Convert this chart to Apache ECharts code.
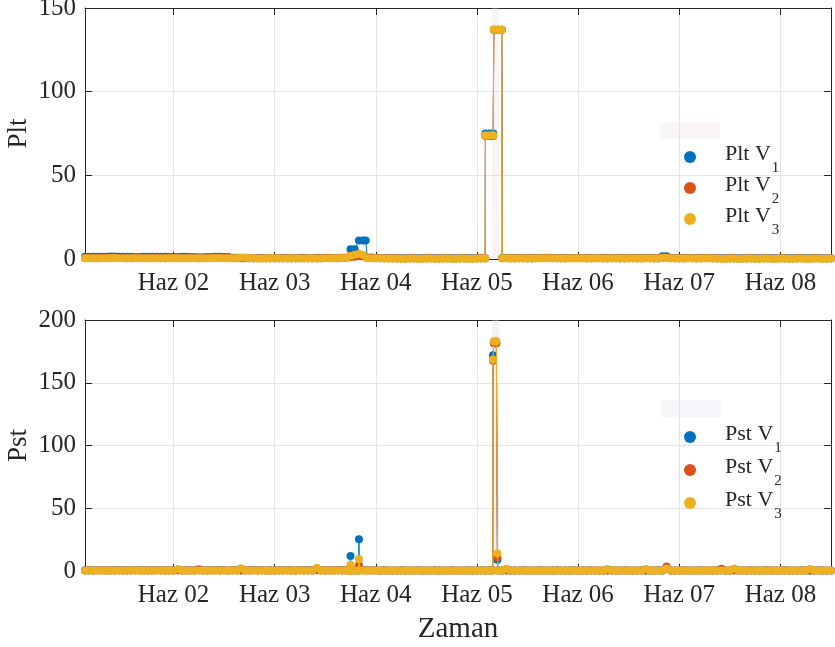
<!DOCTYPE html>
<html>
<head>
<meta charset="utf-8">
<title>Plt / Pst</title>
<script src="https://cdn.jsdelivr.net/npm/echarts@6/dist/echarts.min.js"></script>
<style>
  html, body { margin: 0; padding: 0; background: #ffffff; }
  #chart { width: 835px; height: 647px; }
</style>
</head>
<body>
<div id="chart"></div>
<script>
// Hourly readings, first sample at 03:00 on 1 June, last at 12:00 on 8 June.
// One row per day (1 June: 21 values, 2-7 June: 24 values, 8 June: 13 values).
const FIRST_HOUR = 3;
const LAST_HOUR = 180;

const pltV1 = [
  1.4,1.4,1.3,1.3,1.4,1.4,1.5,1.5,1.3,1.3,1.4,1.4,1.2,1.2,1.3,1.3,1.4,1.4,1.3,1.3,1.2,
  1.2,1.2,1.3,1.3,1.2,1.2,1.1,1.1,1.2,1.2,1.3,1.3,1.2,1.2,0.7,0.7,0.6,0.6,0.5,0.5,0.6,0.6,0.5,0.5,
  0.5,0.5,0.6,0.6,0.5,0.5,0.6,0.6,0.5,0.5,0.6,0.6,0.7,0.7,0.6,0.6,0.8,0.8,5.8,5.8,11.0,11.0,0.9,0.9,
  0.6,0.6,0.5,0.5,0.5,0.5,0.4,0.4,0.5,0.5,0.4,0.4,0.5,0.5,0.4,0.4,0.5,0.5,0.4,0.4,0.5,0.5,0.4,0.4,
  0.5,0.5,75,75,137,137,0.6,0.6,0.5,0.5,0.6,0.6,0.5,0.5,0.6,0.6,0.7,0.7,0.6,0.6,0.5,0.5,0.6,0.6,
  0.6,0.6,0.5,0.5,0.6,0.6,0.5,0.5,0.6,0.6,0.5,0.5,0.6,0.6,0.5,0.5,0.6,0.6,0.5,0.5,1.6,1.6,0.6,0.6,
  0.5,0.5,0.6,0.6,0.5,0.5,0.6,0.6,0.5,0.5,0.4,0.4,0.5,0.5,0.4,0.4,0.5,0.5,0.4,0.4,0.5,0.5,0.4,0.4,
  0.5,0.5,0.4,0.4,0.5,0.5,0.4,0.4,0.5,0.5,0.4,0.4,0.5
];
const pltV2 = [
  0.6,0.6,0.5,0.5,0.6,0.6,0.7,0.7,0.6,0.6,0.5,0.5,0.6,0.6,0.5,0.5,0.6,0.6,0.5,0.5,0.6,
  0.6,0.6,0.5,0.5,0.6,0.6,0.5,0.5,0.6,0.6,0.7,0.7,0.6,0.6,0.5,0.5,0.4,0.4,0.5,0.5,0.4,0.4,0.5,0.5,
  0.5,0.5,0.4,0.4,0.5,0.5,0.4,0.4,0.5,0.5,0.4,0.4,0.6,0.6,0.5,0.5,0.7,0.7,1.2,1.4,1.8,1.6,0.6,0.6,
  0.5,0.5,0.4,0.4,0.4,0.4,0.3,0.3,0.4,0.4,0.3,0.3,0.4,0.4,0.3,0.3,0.4,0.4,0.3,0.3,0.4,0.4,0.3,0.3,
  0.4,0.4,73.5,73.5,137,137,0.5,0.5,0.4,0.4,0.5,0.5,0.4,0.4,0.5,0.5,0.6,0.6,0.5,0.5,0.4,0.4,0.5,0.5,
  0.5,0.5,0.4,0.4,0.5,0.5,0.4,0.4,0.5,0.5,0.4,0.4,0.5,0.5,0.4,0.4,0.5,0.5,0.4,0.4,0.9,0.9,0.5,0.5,
  0.4,0.4,0.5,0.5,0.4,0.4,0.5,0.5,0.4,0.4,0.3,0.3,0.4,0.4,0.3,0.3,0.4,0.4,0.3,0.3,0.4,0.4,0.3,0.3,
  0.4,0.4,0.3,0.3,0.4,0.4,0.3,0.3,0.4,0.4,0.3,0.3,0.4
];
const pltV3 = [
  0.5,0.5,0.4,0.4,0.5,0.5,0.6,0.6,0.5,0.5,0.4,0.4,0.5,0.5,0.4,0.4,0.5,0.5,0.4,0.4,0.5,
  0.5,0.5,0.4,0.4,0.5,0.5,0.4,0.4,0.5,0.5,0.6,0.6,0.5,0.5,0.4,0.4,0.9,0.9,0.4,0.4,0.3,0.3,0.4,0.4,
  0.4,0.4,0.3,0.3,0.4,0.4,0.3,0.3,0.4,0.4,0.3,0.3,0.5,0.5,0.4,0.4,0.6,0.6,2.0,2.6,3.2,2.4,0.5,0.5,
  0.4,0.4,0.3,0.3,0.3,0.3,0.2,0.2,0.3,0.3,0.2,0.2,0.3,0.3,0.2,0.2,0.3,0.3,0.2,0.2,0.3,0.3,0.2,0.2,
  0.3,0.3,74,74,137,137,0.4,0.4,0.3,0.3,0.4,0.4,0.3,0.3,0.4,0.4,0.5,0.5,0.4,0.4,0.3,0.3,0.4,0.4,
  0.4,0.4,0.3,0.3,0.4,0.4,0.3,0.3,0.4,0.4,0.3,0.3,0.4,0.4,0.3,0.3,0.4,0.4,0.3,0.3,0.6,0.6,0.4,0.4,
  0.3,0.3,0.4,0.4,0.3,0.3,0.4,0.4,0.3,0.3,0.2,0.2,0.3,0.3,0.2,0.2,0.3,0.3,0.2,0.2,0.3,0.3,0.2,0.2,
  0.3,0.3,0.2,0.2,0.3,0.3,0.2,0.2,0.3,0.3,0.2,0.2,0.3
];

const pstV1 = [
  0.5,0.4,0.5,0.6,0.5,0.4,0.5,0.5,0.6,0.5,0.4,0.5,0.6,0.5,0.5,0.4,0.5,0.6,0.5,0.4,0.5,
  0.5,0.6,0.5,0.4,0.5,0.5,0.6,0.5,0.4,0.5,0.6,0.5,0.5,0.4,0.5,0.6,0.5,0.4,0.5,0.5,0.6,0.5,0.4,0.5,
  0.5,0.4,0.5,0.6,0.5,0.4,0.5,0.5,0.6,0.5,1.2,0.5,0.4,0.5,0.6,0.5,0.5,0.4,12.0,0.5,25.3,0.6,0.5,0.4,
  0.5,0.4,0.5,0.4,0.3,0.4,0.5,0.4,0.3,0.4,0.5,0.4,0.3,0.4,0.5,0.4,0.3,0.4,0.5,0.4,0.3,0.4,0.5,0.4,
  0.4,0.5,0.4,0.5,182,0.5,0.4,0.5,0.4,0.3,0.4,0.5,0.4,0.3,0.4,0.5,0.4,0.3,0.4,0.5,0.4,0.3,0.4,0.5,
  0.4,0.3,0.4,0.5,0.4,0.3,0.4,0.5,0.4,0.3,0.4,0.5,0.4,0.3,0.4,0.5,0.4,0.3,0.4,0.5,0.4,2.8,0.4,0.3,
  0.4,0.5,0.4,0.3,0.4,0.5,0.4,0.3,0.4,0.5,0.4,0.3,0.4,0.5,0.4,0.3,0.4,0.5,0.4,0.3,0.4,0.5,0.4,0.3,
  0.4,0.5,0.4,0.3,0.4,0.5,0.4,0.3,0.4,0.5,0.4,0.3,0.4
];
const pstV2 = [
  0.4,0.5,0.4,0.5,0.4,0.5,0.4,0.4,0.5,0.4,0.5,0.4,0.5,0.4,0.4,0.5,0.4,0.5,0.4,0.5,0.4,
  0.4,0.5,0.4,0.5,0.4,0.4,1.4,0.4,0.5,0.4,0.5,0.4,0.5,0.4,0.5,0.4,0.4,0.5,0.4,0.5,0.4,0.5,0.4,0.4,
  0.4,0.5,0.4,0.5,0.4,0.4,0.5,0.4,0.5,0.4,0.5,0.4,0.5,0.4,0.4,0.5,0.4,0.5,3.0,0.4,4.8,0.5,0.4,0.5,
  0.4,0.3,0.4,0.3,0.4,0.3,0.4,0.3,0.4,0.3,0.4,0.3,0.4,0.3,0.4,0.3,0.4,0.3,0.4,0.3,0.4,0.3,0.4,0.3,
  0.4,0.3,0.4,0.3,181.5,0.4,0.3,0.4,0.3,0.4,0.3,0.4,0.3,0.4,0.3,0.4,0.3,0.4,0.3,0.4,0.3,0.4,0.3,0.4,
  0.3,0.4,0.3,0.4,0.3,0.4,0.3,0.4,0.3,0.4,0.3,0.4,0.3,0.4,0.3,0.4,0.3,0.4,0.3,0.4,0.3,3.6,0.3,0.4,
  0.3,0.4,0.3,0.4,0.3,0.4,0.3,0.4,0.3,0.4,1.8,0.4,0.3,0.4,0.3,0.4,0.3,0.4,0.3,0.4,0.3,0.4,0.3,0.4,
  0.3,0.4,0.3,0.4,0.3,0.4,0.3,0.4,0.3,0.4,0.3,0.4,0.3
];
const pstV3 = [
  0.4,0.4,0.3,0.4,0.4,0.3,0.4,0.4,0.3,0.4,0.4,0.3,0.4,0.4,0.3,0.4,0.4,0.3,0.4,0.4,0.3,
  0.4,1.6,0.4,0.3,0.4,0.4,0.3,0.4,0.4,0.3,0.4,0.4,0.3,0.4,0.4,0.3,2.2,0.4,0.3,0.4,0.4,0.3,0.4,0.4,
  0.3,0.4,0.4,0.3,0.4,0.4,0.3,0.4,0.4,0.3,2.6,0.4,0.3,0.4,0.4,0.3,0.4,0.4,5.0,0.4,9.5,0.4,0.3,0.4,
  0.4,0.3,0.3,0.4,0.3,0.3,0.4,0.3,0.3,0.4,0.3,0.3,0.4,0.3,0.3,0.4,0.3,0.3,0.4,0.3,0.3,0.4,0.3,0.3,
  0.3,0.4,0.3,0.3,183,0.3,0.4,1.8,0.3,0.3,0.4,0.3,0.3,0.4,0.3,0.3,0.4,0.3,0.3,0.4,0.3,0.3,0.4,0.3,
  0.3,0.4,0.3,0.3,0.4,0.3,0.3,1.5,0.3,0.3,0.4,0.3,0.3,0.4,0.3,0.3,1.5,0.3,0.4,0.3,0.3,2.0,0.3,0.4,
  0.3,0.4,0.3,0.3,0.4,0.3,0.3,0.4,0.3,0.3,0.4,0.3,0.3,2.0,0.3,0.3,0.4,0.3,0.3,0.4,0.3,0.3,0.4,0.3,
  0.3,0.4,0.3,0.3,0.4,0.3,0.3,1.6,0.3,0.3,0.4,0.3,0.3
];

// Extra readings between the hourly samples: [hour since 1 June 00:00, value]
const pltV1Extra = [[69.6, 11.0], [97.95, 0.5], [99.85, 75], [101.9, 137]];
const pltV2Extra = [[97.95, 0.4], [99.85, 73.5], [101.9, 137]];
const pltV3Extra = [[97.95, 0.3], [99.85, 74], [101.9, 137]];
const pstV1Extra = [[65.9, 0.5], [66.1, 0.5], [67.9, 0.5], [68.1, 0.6],
                    [99.75, 0.5], [99.8, 172], [100.3, 182], [100.6, 182], [100.85, 9]];
const pstV2Extra = [[65.9, 0.4], [66.1, 0.4], [67.9, 0.4], [68.1, 0.5],
                    [99.75, 0.3], [99.8, 167.5], [100.3, 181.5], [100.6, 181.5], [100.85, 11]];
const pstV3Extra = [[65.9, 0.4], [66.1, 0.4], [67.9, 0.4], [68.1, 0.4],
                    [99.75, 0.3], [99.8, 168.5], [100.3, 183], [100.6, 183], [100.85, 14]];

// Highlighted interval around the 5 June event (hours since 1 June 00:00)
const eventBand = [99.6, 101.2];

const pltNames = ['Plt V1', 'Plt V2', 'Plt V3'];
const pstNames = ['Pst V1', 'Pst V2', 'Pst V3'];
const pltTicks = [0, 150, 50];   // min, max, step
const pstTicks = [0, 200, 50];
const monthLabel = 'Haz';

const COLORS = ['#0072BD', '#D95319', '#EDB120'];
const INK = '#262626';
const GRIDLINE = '#e4e4e4';
const FONT = "'Liberation Serif', 'Times New Roman', serif";
const HOUR = 3600 * 1000;
const DAY = 24 * HOUR;
const T0 = Date.UTC(2023, 5, 1);

const toTime = h => T0 + h * HOUR;

function buildSeriesData(hourly, extra) {
  const pts = hourly.map((v, i) => [toTime(FIRST_HOUR + i), v]);
  extra.forEach(([h, v]) => pts.push([toTime(h), v]));
  pts.sort((a, b) => a[0] - b[0]);
  return pts;
}

const grids = [
  { left: 85, right: 4, top: 8, height: 251, containLabel: false, outerBoundsMode: 'none' },
  { left: 85, right: 4, top: 320, height: 251, containLabel: false, outerBoundsMode: 'none' }
];

function dayLabel(v) {
  const d = new Date(v);
  return monthLabel + ' ' + String(d.getUTCDate()).padStart(2, '0');
}

function xAxes(gi, withName) {
  const common = {
    type: 'time', gridIndex: gi,
    min: toTime(FIRST_HOUR), max: toTime(LAST_HOUR),
    minInterval: DAY, maxInterval: DAY,
    axisLine: { show: true, onZero: false, lineStyle: { color: INK, width: 1 } },
    axisTick: { show: true, inside: true, length: 7, lineStyle: { color: INK } }
  };
  return [
    Object.assign({}, common, {
      position: 'bottom',
      axisLabel: {
        show: true, color: INK, fontFamily: FONT, fontSize: 25, margin: 12,
        showMinLabel: false, showMaxLabel: false, formatter: dayLabel,
        hideOverlap: false
      },
      splitLine: { show: true, lineStyle: { color: GRIDLINE, width: 1 } },
      name: withName ? 'Zaman' : '',
      nameLocation: 'middle', nameGap: 44, nameMoveOverlap: false,
      nameTextStyle: { color: INK, fontFamily: FONT, fontSize: 29 }
    }),
    Object.assign({}, common, {
      position: 'top',
      axisLabel: { show: false },
      splitLine: { show: false }
    })
  ];
}

function yAxes(gi, ticks, name) {
  const common = {
    type: 'value', gridIndex: gi,
    min: ticks[0], max: ticks[1], interval: ticks[2],
    axisLine: { show: true, lineStyle: { color: INK, width: 1 } },
    axisTick: { show: true, inside: true, length: 7, lineStyle: { color: INK } }
  };
  return [
    Object.assign({}, common, {
      position: 'left',
      axisLabel: { show: true, color: INK, fontFamily: FONT, fontSize: 25, margin: 9 },
      splitLine: { show: true, lineStyle: { color: GRIDLINE, width: 1 } },
      name: name, nameLocation: 'middle', nameGap: 53, nameRotate: 90, nameMoveOverlap: false,
      nameTextStyle: { color: INK, fontFamily: FONT, fontSize: 27 }
    }),
    Object.assign({}, common, {
      position: 'right',
      axisLabel: { show: false },
      splitLine: { show: false }
    })
  ];
}

function lineSeries(name, data, colorIdx, gi, band, bandColor) {
  const s = {
    name: name, type: 'line', data: data,
    xAxisIndex: gi * 2, yAxisIndex: gi * 2,
    symbol: 'circle', symbolSize: 8, showSymbol: true, showAllSymbol: true,
    clip: false,
    lineStyle: { width: 1, color: COLORS[colorIdx] },
    itemStyle: { color: COLORS[colorIdx] },
    emphasis: { disabled: true },
    animation: false,
    z: 3 + colorIdx
  };
  if (band) {
    s.markArea = {
      silent: true,
      itemStyle: { color: bandColor },
      data: [[{ xAxis: toTime(band[0]) }, { xAxis: toTime(band[1]) }]]
    };
  }
  return s;
}

const pltData = [
  buildSeriesData(pltV1, pltV1Extra),
  buildSeriesData(pltV2, pltV2Extra),
  buildSeriesData(pltV3, pltV3Extra)
];
const pstData = [
  buildSeriesData(pstV1, pstV1Extra),
  buildSeriesData(pstV2, pstV2Extra),
  buildSeriesData(pstV3, pstV3Extra)
];

const series = [];
pltNames.forEach((n, i) => series.push(lineSeries(n, pltData[i], i, 0, i === 0 ? eventBand : null, 'rgba(235,215,215,0.3)')));
pstNames.forEach((n, i) => series.push(lineSeries(n, pstData[i], i, 1, i === 0 ? eventBand : null, 'rgba(215,215,235,0.35)')));

function legendLabel(name) {
  const parts = name.match(/^(.*V)(\d)$/);
  return '{m|' + parts[1] + '}{s|' + parts[2] + '}';
}

const legendRich = {
  m: { fontFamily: FONT, fontSize: 22, color: INK, padding: [0, 0, 6, 24] },
  s: { fontFamily: FONT, fontSize: 15, color: INK, padding: [22, 0, 0, 1] }
};

function legendItems(names, firstTop, step) {
  return names.map((n, i) => ({
    data: [n], orient: 'vertical', left: 684, top: firstTop + i * step,
    icon: 'circle', itemWidth: 12, itemHeight: 12, padding: 0,
    selectedMode: false,
    formatter: legendLabel,
    textStyle: { rich: legendRich }
  }));
}

const chart = echarts.init(document.getElementById('chart'), null, { renderer: 'canvas' });
chart.setOption({
  animation: false,
  useUTC: true,
  backgroundColor: '#ffffff',
  grid: grids,
  xAxis: xAxes(0, false).concat(xAxes(1, true)),
  yAxis: yAxes(0, pltTicks, 'Plt').concat(yAxes(1, pstTicks, 'Pst')),
  legend: legendItems(pltNames, 143, 31).concat(legendItems(pstNames, 423, 33)),
  graphic: [
    { type: 'rect', shape: { x: 660, y: 123, width: 60, height: 16 }, style: { fill: '#fbf6f6' }, silent: true },
    { type: 'rect', shape: { x: 661, y: 400, width: 60, height: 17 }, style: { fill: '#f6f6fb' }, silent: true }
  ],
  series: series
});
</script>
</body>
</html>
